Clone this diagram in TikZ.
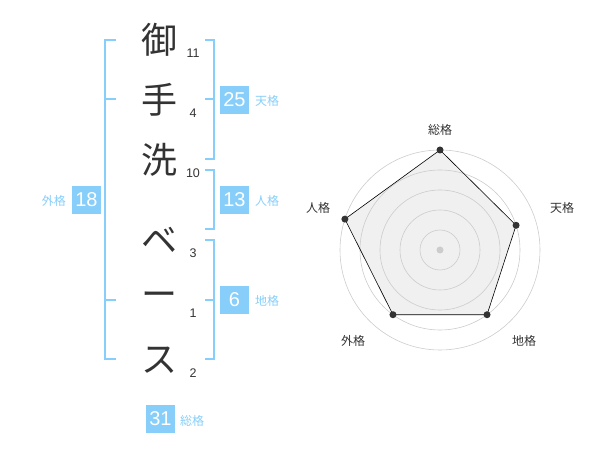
\documentclass[tikz,border=0pt]{standalone}
\usepackage{fontspec}
\setmainfont{Liberation Sans}
\newfontfamily\jp{Noto Sans CJK JP}
\definecolor{sky}{RGB}{135,206,250}
\definecolor{ink}{RGB}{51,51,51}
\definecolor{ring}{RGB}{204,204,204}
\definecolor{area}{RGB}{240,240,240}
\begin{document}
\begin{tikzpicture}[x=1pt,y=-1pt,
  bigch/.style={font=\jp\fontsize{36}{36}\selectfont, text=ink, inner sep=0pt},
  strokes/.style={font=\fontsize{12.5}{12.5}\selectfont, text=ink, inner sep=0pt},
  brk/.style={draw=sky, line width=2pt},
  numbox/.style={fill=sky, text=white, minimum width=29pt, minimum height=28pt, inner sep=0pt, font=\fontsize{20}{20}\selectfont},
  kaku/.style={text=sky, font=\jp\fontsize{12}{12}\selectfont, inner sep=0pt},
  rlab/.style={text=ink, font=\jp\fontsize{12}{12}\selectfont, inner sep=0pt},
  dot/.style={circle, fill=ink, inner sep=0pt, minimum size=7pt}]
\useasboundingbox (0,0) rectangle (600,470);
% characters
\node[bigch] (c1) at (159,40) {御};
\node[bigch] (c2) at (159,100) {手};
\node[bigch] (c3) at (159,160) {洗};
\node[bigch] (c4) at (159,240) {ベ};
\node[bigch] (c5) at (159,300) {ー};
\node[bigch] (c6) at (159,360) {ス};
\node[strokes] (n1) at (193,53) {11};
\node[strokes] (n2) at (193,113) {4};
\node[strokes] (n3) at (193,173) {10};
\node[strokes] (n4) at (193,253) {3};
\node[strokes] (n5) at (193,313) {1};
\node[strokes] (n6) at (193,373) {2};
% brackets
\draw[brk] (116,40) -- (105,40) -- (105,359) -- (116,359);
\draw[brk] (105,99) -- (116,99);
\draw[brk] (105,300) -- (116,300);
\draw[brk] (205,40) -- (214,40) -- (214,159) -- (205,159);
\draw[brk] (205,99) -- (214,99);
\draw[brk] (205,170) -- (214,170) -- (214,229) -- (205,229);
\draw[brk] (205,240) -- (214,240) -- (214,359) -- (205,359);
\draw[brk] (205,300) -- (214,300);
% boxes
\node[numbox] (b25) at (234.5,100) {25};
\node[kaku, anchor=west] (k25) at (255,101) {天格};
\node[numbox] (b13) at (234.5,200) {13};
\node[kaku, anchor=west] (k13) at (255,201) {人格};
\node[numbox] (b6) at (234.5,300) {6};
\node[kaku, anchor=west] (k6) at (255,301) {地格};
\node[numbox] (b18) at (86.5,200) {18};
\node[kaku, anchor=east] (k18) at (66,201) {外格};
\node[numbox] (b31) at (160.5,419) {31};
\node[kaku, anchor=west] (k31) at (180,421) {総格};
% radar
\coordinate (O) at (440,250);
\path (O) ++(-90:100) coordinate (p1);
\path (O) ++(-18:80) coordinate (p2);
\path (O) ++(54:80) coordinate (p3);
\path (O) ++(126:80) coordinate (p4);
\path (O) ++(198:100) coordinate (p5);
\fill[area] (p1) -- (p2) -- (p3) -- (p4) -- (p5) -- cycle;
\foreach \r in {20,40,60,80,100} \draw[ring, line width=0.6pt] (O) circle (\r);
\node[circle, fill=ring, inner sep=0pt, minimum size=7pt] (ctr) at (O) {};
\draw[draw=black, line width=0.6pt] (p1) -- (p2) -- (p3) -- (p4) -- (p5) -- cycle;
\foreach \i in {1,...,5} \node[dot] (d\i) at (p\i) {};
\node[rlab] (l1) at (440,130) {総格};
\node[rlab] (l2) at (562,208) {天格};
\node[rlab] (l3) at (524,341) {地格};
\node[rlab] (l4) at (353,341) {外格};
\node[rlab] (l5) at (318,208) {人格};
\end{tikzpicture}
\end{document}
